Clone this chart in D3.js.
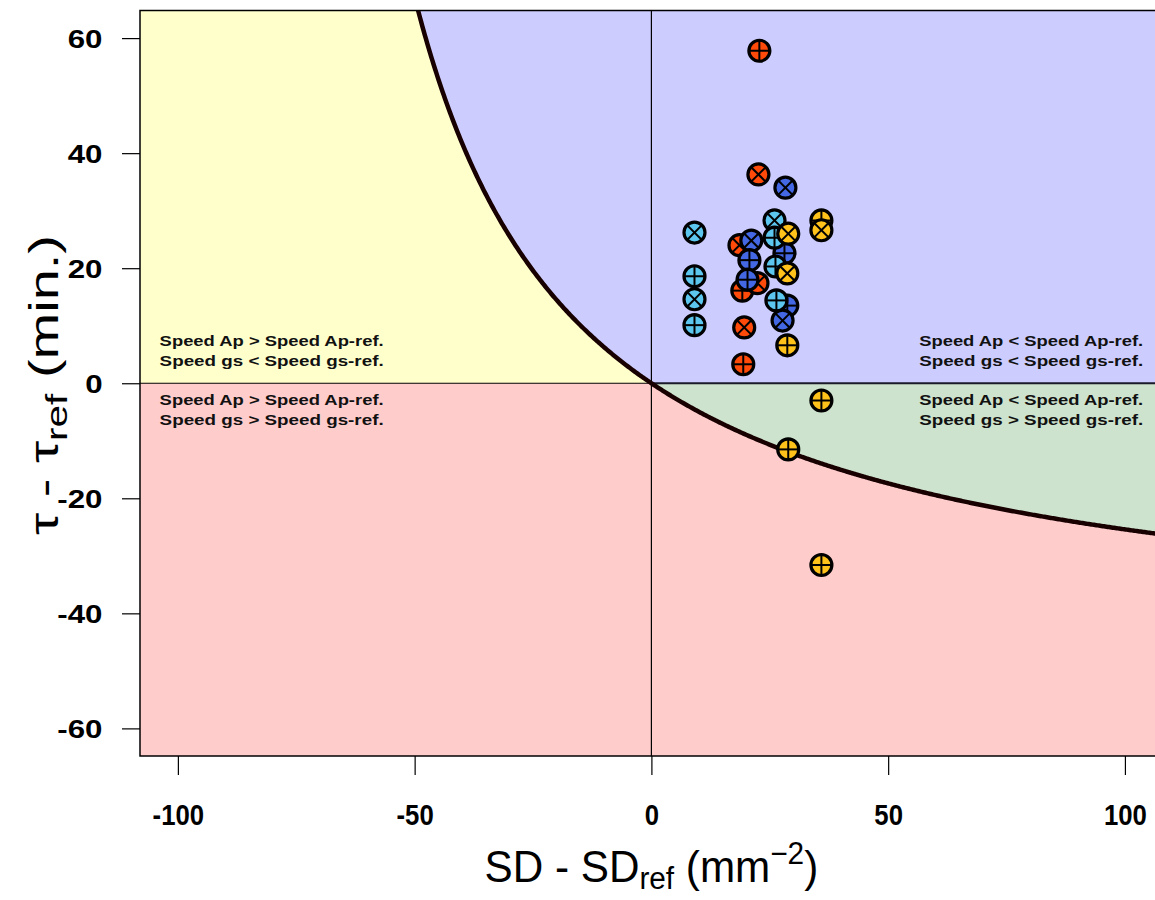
<!DOCTYPE html>
<html>
<head>
<meta charset="utf-8">
<script src="https://cdn.jsdelivr.net/npm/d3@7"></script>
<style>
  html, body { margin: 0; padding: 0; background: #ffffff; overflow: hidden; }
  svg { display: block; }
</style>
</head>
<body>
<svg id="chart" width="1155" height="900"></svg>
<script>
// ---------- Data ----------
const xTicks = [-100, -50, 0, 50, 100];
const yTicks = [-60, -40, -20, 0, 20, 40, 60];

// Reference values used for the iso-line tau*SD = const
const tauRef = 47;
const sdRef = 85;

// Points: SD - SDref, tau - tauref, group, marker type
const sdDiff = [
  22.8, 22.6, 18.6, 19.2, 22.4, 19.6, 19.4,          // orange
  28.3, 21.1, 20.7, 20.3, 28.1, 28.7, 27.7,          // dark blue
  9.1, 9.1, 9.1, 9.1, 26.0, 26.0, 26.2, 26.4,        // light blue
  35.9, 35.9, 28.9, 28.7, 28.7, 35.9, 28.9, 35.9     // yellow
];
const tauDiff = [
  57.8, 36.3, 24.0, 16.1, 17.4, 9.7, 3.3,
  34.0, 24.8, 21.4, 18.0, 22.6, 13.5, 10.9,
  26.2, 18.6, 14.6, 10.1, 28.3, 25.3, 20.3, 14.4,
  28.3, 26.6, 26.0, 19.1, 6.6, -3.0, -11.5, -31.6
];
const group = [
  "orange","orange","orange","orange","orange","orange","orange",
  "blue","blue","blue","blue","blue","blue","blue",
  "sky","sky","sky","sky","sky","sky","sky","sky",
  "gold","gold","gold","gold","gold","gold","gold","gold"
];
const shape = [
  "plus","cross","cross","plus","cross","cross","plus",
  "cross","cross","plus","plus","plus","plus","cross",
  "cross","plus","cross","plus","cross","plus","plus","plus",
  "plus","cross","cross","cross","plus","plus","plus","plus"
];
const groupColors = { orange: "#ff4a0a", blue: "#4468e4", sky: "#5cc6ee", gold: "#ffc21a" };

const regionLabels = [
  { x: -80.2, pos: "above", lines: ["Speed Ap > Speed Ap-ref.", "Speed gs < Speed gs-ref."] },
  { x: -80.2, pos: "below", lines: ["Speed Ap > Speed Ap-ref.", "Speed gs > Speed gs-ref."] },
  { x: 80.2, pos: "above", lines: ["Speed Ap < Speed Ap-ref.", "Speed gs < Speed gs-ref."] },
  { x: 80.2, pos: "below", lines: ["Speed Ap < Speed Ap-ref.", "Speed gs > Speed gs-ref."] }
];

// ---------- Layout ----------
const svg = d3.select("#chart");
const x = d3.scaleLinear().domain([-108, 108]).range([140, 1162.8]);
const y = d3.scaleLinear().domain([-64.8, 64.8]).range([756, 10.5]);
const [x0, x1] = x.range();
const [yb, yt] = y.range();

svg.append("clipPath").attr("id", "clip")
  .append("rect").attr("x", x0).attr("y", yt).attr("width", x1 - x0).attr("height", yb - yt);

const plot = svg.append("g").attr("clip-path", "url(#clip)");

const f = v => -tauRef * v / (sdRef + v);
const yMax = y.domain()[1];
const xAtTop = -yMax * sdRef / (tauRef + yMax);

// quadrants
plot.append("rect").attr("x", x0).attr("y", yt).attr("width", x(0) - x0).attr("height", y(0) - yt).attr("fill", "#ffffcc");
plot.append("rect").attr("x", x(0)).attr("y", yt).attr("width", x1 - x(0)).attr("height", y(0) - yt).attr("fill", "#ccccff");
plot.append("rect").attr("x", x0).attr("y", y(0)).attr("width", x1 - x0).attr("height", yb - y(0)).attr("fill", "#ffcccc");

// blue region left of 0 above the curve
const leftXs = d3.range(0, 301).map(i => xAtTop + (0 - xAtTop) * i / 300);
plot.append("path")
  .datum(leftXs)
  .attr("fill", "#ccccff")
  .attr("d", d3.area().x(d => x(d)).y0(y(yMax) - 2).y1(d => y(Math.min(f(d), yMax))));
// green region right of 0 between curve and 0
const rightXs = d3.range(0, 301).map(i => 110 * i / 300);
plot.append("path")
  .datum(rightXs)
  .attr("fill", "#cde3cd")
  .attr("d", d3.area().x(d => x(d)).y0(y(0)).y1(d => y(f(d))));

// zero lines
plot.append("line").attr("x1", x0).attr("x2", x(0)).attr("y1", y(0)).attr("y2", y(0))
  .attr("stroke", "#000").attr("stroke-width", 1.2);
plot.append("line").attr("x1", x(0)).attr("x2", x1).attr("y1", y(0)).attr("y2", y(0))
  .attr("stroke", "#1a1a2a").attr("stroke-width", 2);
plot.append("line").attr("x1", x(0)).attr("x2", x(0)).attr("y1", yt).attr("y2", yb)
  .attr("stroke", "#000").attr("stroke-width", 1.2);

// curve
const curveXs = d3.range(0, 601).map(i => xAtTop - 1 + (110 - xAtTop + 1) * i / 600);
plot.append("path")
  .datum(curveXs)
  .attr("fill", "none")
  .attr("stroke", "#180000")
  .attr("stroke-width", 4.5)
  .attr("d", d3.line().x(d => x(d)).y(d => y(f(d))));

// region labels
regionLabels.forEach(lab => {
  const cy = y(0);
  const offs = lab.pos === "above" ? [-37, -17] : [22, 42];
  lab.lines.forEach((t, i) => {
    plot.append("text")
      .attr("x", x(lab.x)).attr("y", cy + offs[i])
      .attr("text-anchor", "middle")
      .attr("font-family", "'Liberation Sans', Arial, sans-serif")
      .attr("font-weight", "bold")
      .attr("font-size", 15.5)
      .attr("textLength", 224)
      .attr("lengthAdjust", "spacingAndGlyphs")
      .attr("fill", "#111")
      .text(t);
  });
});

// points
const r = 10.5;
const pts = d3.range(sdDiff.length).map(i => ({ sx: sdDiff[i], ty: tauDiff[i], g: group[i], s: shape[i] }));
const pg = plot.append("g").selectAll("g").data(pts).join("g")
  .attr("transform", d => `translate(${x(d.sx)},${y(d.ty)})`);
pg.append("circle").attr("r", r).attr("fill", d => groupColors[d.g])
  .attr("stroke", "#000").attr("stroke-width", 3.2);
pg.each(function(d) {
  const g = d3.select(this);
  const segs = d.s === "plus"
    ? [[-r, 0, r, 0], [0, -r, 0, r]]
    : [[-r * 0.707, -r * 0.707, r * 0.707, r * 0.707], [-r * 0.707, r * 0.707, r * 0.707, -r * 0.707]];
  segs.forEach(sg => g.append("line")
    .attr("x1", sg[0]).attr("y1", sg[1]).attr("x2", sg[2]).attr("y2", sg[3])
    .attr("stroke", "#000").attr("stroke-width", 2));
});

// plot border
svg.append("rect").attr("x", x0).attr("y", yt).attr("width", x1 - x0).attr("height", yb - yt)
  .attr("fill", "none").attr("stroke", "#000").attr("stroke-width", 1.5);

// axes
const fmt = d => String(d);
const yAxis = svg.append("g").attr("transform", `translate(${x0},0)`)
  .call(d3.axisLeft(y).tickValues(yTicks).tickSize(18).tickPadding(6).tickFormat(fmt));
yAxis.select(".domain").remove();
yAxis.selectAll(".tick line").attr("stroke", "#000").attr("stroke-width", 1.2);
yAxis.selectAll(".tick text")
  .attr("font-family", "'Liberation Sans', Arial, sans-serif")
  .attr("font-weight", "bold").attr("font-size", 25).attr("fill", "#000")
  .attr("x", -30).attr("dy", "0.36em")
  .attr("transform", "scale(1.25,1)");

const xAxis = svg.append("g").attr("transform", `translate(0,${yb})`)
  .call(d3.axisBottom(x).tickValues(xTicks).tickSize(19).tickPadding(27).tickFormat(fmt));
xAxis.select(".domain").remove();
xAxis.selectAll(".tick line").attr("stroke", "#000").attr("stroke-width", 1.2);
xAxis.selectAll(".tick text")
  .attr("font-family", "'Liberation Sans', Arial, sans-serif")
  .attr("font-weight", "bold").attr("font-size", 28).attr("fill", "#000")
  .attr("transform", "scale(0.92,1.05)");

// axis titles
const xt = svg.append("text")
  .attr("transform", `translate(${x(0)},882) scale(0.96,1)`)
  .attr("text-anchor", "middle")
  .attr("font-family", "'Liberation Sans', Arial, sans-serif")
  .attr("font-size", 44).attr("fill", "#000");
xt.append("tspan").text("SD - SD");
xt.append("tspan").attr("font-size", 31).attr("dy", 7).text("ref");
xt.append("tspan").attr("dy", -7).text(" (mm");
xt.append("tspan").attr("font-size", 31).attr("dy", -18).text("\u22122");
xt.append("tspan").attr("dy", 18).text(")");

const yt2 = svg.append("text")
  .attr("transform", `translate(58,385) rotate(-90) scale(1.4,1)`)
  .attr("text-anchor", "middle")
  .attr("font-family", "'Liberation Sans', Arial, sans-serif")
  .attr("font-size", 40).attr("fill", "#000");
yt2.append("tspan").text("\u03c4 - \u03c4");
yt2.append("tspan").attr("font-size", 29).attr("dy", 9).text("ref");
yt2.append("tspan").attr("dy", -9).text(" (min.)");
</script>
</body>
</html>
